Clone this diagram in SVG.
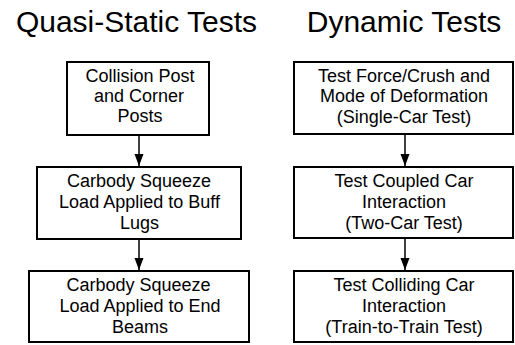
<svg xmlns="http://www.w3.org/2000/svg" width="515" height="345" viewBox="0 0 515 345">
<style>
.box{fill:#fff;stroke:#000;stroke-width:2}
.t{font-family:"Liberation Sans",Arial,sans-serif;font-size:18px;fill:#000;text-anchor:middle}
.h{font-family:"Liberation Sans",Arial,sans-serif;font-size:30px;fill:#000;text-anchor:middle}
.c{stroke:#000;stroke-width:1.5;fill:none}
</style>
<defs>
<marker id="ah" markerUnits="userSpaceOnUse" markerWidth="13" markerHeight="10" refX="12" refY="4.5" orient="auto">
<path d="M0,0 L12,4.5 L0,9 Z" fill="#000"/>
</marker>
</defs>
<rect width="515" height="345" fill="#fff"/>
<text class="h" x="136.5" y="32">Quasi-Static Tests</text>
<text class="h" x="404" y="32">Dynamic Tests</text>
<g id="connectors">
<line class="c" x1="139" y1="136" x2="139" y2="166" marker-end="url(#ah)"/>
<line class="c" x1="139" y1="240" x2="139" y2="270" marker-end="url(#ah)"/>
<line class="c" x1="405" y1="135" x2="405" y2="166" marker-end="url(#ah)"/>
<line class="c" x1="405" y1="239" x2="405" y2="270" marker-end="url(#ah)"/>
</g>
<g id="q1">
<rect class="box" x="67" y="62" width="142" height="73"/>
<text class="t" x="140" y="82">Collision Post</text>
<text class="t" x="139" y="102">and Corner</text>
<text class="t" x="140" y="122">Posts</text>
</g>
<g id="q2">
<rect class="box" x="37" y="167" width="204" height="72"/>
<text class="t" x="139" y="187">Carbody Squeeze</text>
<text class="t" x="139.5" y="208">Load Applied to Buff</text>
<text class="t" x="139.5" y="229">Lugs</text>
</g>
<g id="q3">
<rect class="box" x="29" y="271" width="220" height="71"/>
<text class="t" x="138.5" y="291">Carbody Squeeze</text>
<text class="t" x="140" y="312">Load Applied to End</text>
<text class="t" x="140" y="333">Beams</text>
</g>
<g id="d1">
<rect class="box" x="294" y="62" width="219" height="72"/>
<text class="t" x="404" y="82">Test Force/Crush and</text>
<text class="t" x="404" y="102">Mode of Deformation</text>
<text class="t" x="404" y="123">(Single-Car Test)</text>
</g>
<g id="d2">
<rect class="box" x="294" y="167" width="219" height="71"/>
<text class="t" x="404" y="187">Test Coupled Car</text>
<text class="t" x="404" y="208">Interaction</text>
<text class="t" x="404" y="229">(Two-Car Test)</text>
</g>
<g id="d3">
<rect class="box" x="294" y="271" width="219" height="71"/>
<text class="t" x="404" y="291">Test Colliding Car</text>
<text class="t" x="404" y="312">Interaction</text>
<text class="t" x="404" y="333">(Train-to-Train Test)</text>
</g>
</svg>
